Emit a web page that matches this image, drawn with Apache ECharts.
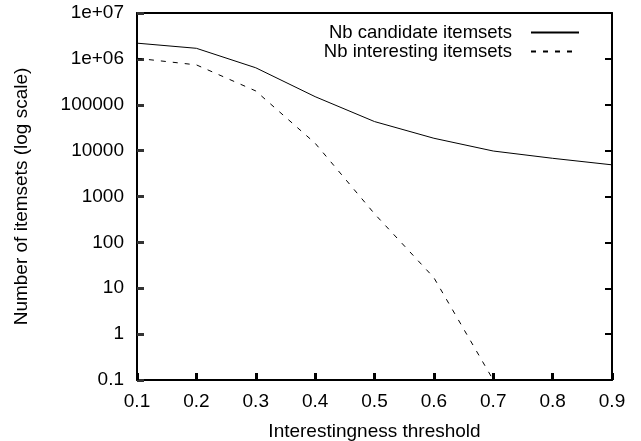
<!DOCTYPE html>
<html>
<head>
<meta charset="utf-8">
<script src="https://cdn.jsdelivr.net/npm/echarts@6/dist/echarts.min.js"></script>
<style>
  html, body { margin: 0; padding: 0; background: #fff; }
  #chart { width: 641px; height: 441px; }
</style>
</head>
<body>
<div id="chart"></div>
<script>
// thresholds on the x axis
const thresholds = ["0.1", "0.2", "0.3", "0.4", "0.5", "0.6", "0.7", "0.8", "0.9"];
const candidateItemsets = [2200000, 1700000, 640000, 150000, 43000, 18600, 9800, 6800, 4900];
const interestingItemsets = [1030000, 740000, 200000, 14500, 420, 17, 0.1, "-", "-"];

const FONT = "Liberation Sans, Arial, Helvetica, sans-serif";

function logLabel(v) {
  const e = Math.round(Math.log10(v));
  if (e >= 6) return "1e+" + (e < 10 ? "0" + e : e);
  if (e < 0) return String(Math.pow(10, e).toFixed(-e));
  return String(Math.pow(10, e));
}

const chart = echarts.init(document.getElementById("chart"));
const option = {
  backgroundColor: "#ffffff",
  animation: false,
  textStyle: { fontFamily: FONT, color: "#000" },
  grid: {
    left: 137,
    right: 29,
    top: 13,
    bottom: 61,
    outerBoundsMode: "none",
    containLabel: false,
  },
  legend: {
    orient: "vertical",
    align: "right",
    right: 56,
    top: 18,
    itemWidth: 48,
    itemHeight: 14,
    itemGap: 0,
    itemStyle: { opacity: 0 },
    textStyle: { fontFamily: FONT, fontSize: 18.5, color: "#000", lineHeight: 19, padding: [0, 14, 0, 0] },
    data: ["Nb candidate itemsets", "Nb interesting itemsets"],
  },
  xAxis: [
    {
      type: "category",
      data: thresholds,
      boundaryGap: false,
      name: "Interestingness threshold",
      nameLocation: "middle",
      nameGap: 42,
      nameTextStyle: { fontFamily: FONT, fontSize: 19, color: "#000" },
      axisLine: { show: true, onZero: false, lineStyle: { color: "#000", width: 2 } },
      axisTick: { show: true, inside: true, length: 7, lineStyle: { color: "#000", width: 3 } },
      axisLabel: { fontFamily: FONT, fontSize: 19, color: "#000", margin: 12 },
      splitLine: { show: false },
    },
    {
      type: "category",
      data: thresholds,
      boundaryGap: false,
      position: "top",
      axisLine: { show: true, onZero: false, lineStyle: { color: "#000", width: 2 } },
      axisTick: { show: false },
      axisLabel: { show: false },
      splitLine: { show: false },
    },
  ],
  yAxis: [
    {
      type: "log",
      logBase: 10,
      min: 0.1,
      max: 10000000,
      name: "Number of itemsets (log scale)",
      nameLocation: "middle",
      nameGap: 106,
      nameTextStyle: { fontFamily: FONT, fontSize: 19, color: "#000" },
      axisLine: { show: true, onZero: false, lineStyle: { color: "#000", width: 2 } },
      axisTick: { show: true, inside: true, length: 7, lineStyle: { color: "#333", width: 3 } },
      axisLabel: { fontFamily: FONT, fontSize: 19, color: "#000", margin: 13, formatter: logLabel },
      splitLine: { show: false },
    },
    {
      type: "log",
      logBase: 10,
      min: 0.1,
      max: 10000000,
      position: "right",
      axisLine: { show: true, onZero: false, lineStyle: { color: "#000", width: 2 } },
      axisTick: { show: true, inside: true, length: 7, lineStyle: { color: "#000", width: 2 } },
      axisLabel: { show: false },
      splitLine: { show: false },
    },
  ],
  series: [
    {
      name: "Nb candidate itemsets",
      type: "line",
      symbol: "none",
      yAxisIndex: 0,
      lineStyle: { color: "#000", width: 1 },
      itemStyle: { color: "#000" },
      data: candidateItemsets,
    },
    {
      name: "Nb interesting itemsets",
      type: "line",
      symbol: "none",
      yAxisIndex: 0,
      lineStyle: { color: "#000", width: 1, type: [5, 7] },
      itemStyle: { color: "#000" },
      data: interestingItemsets,
    },
  ],
};
chart.setOption(option);
</script>
</body>
</html>
